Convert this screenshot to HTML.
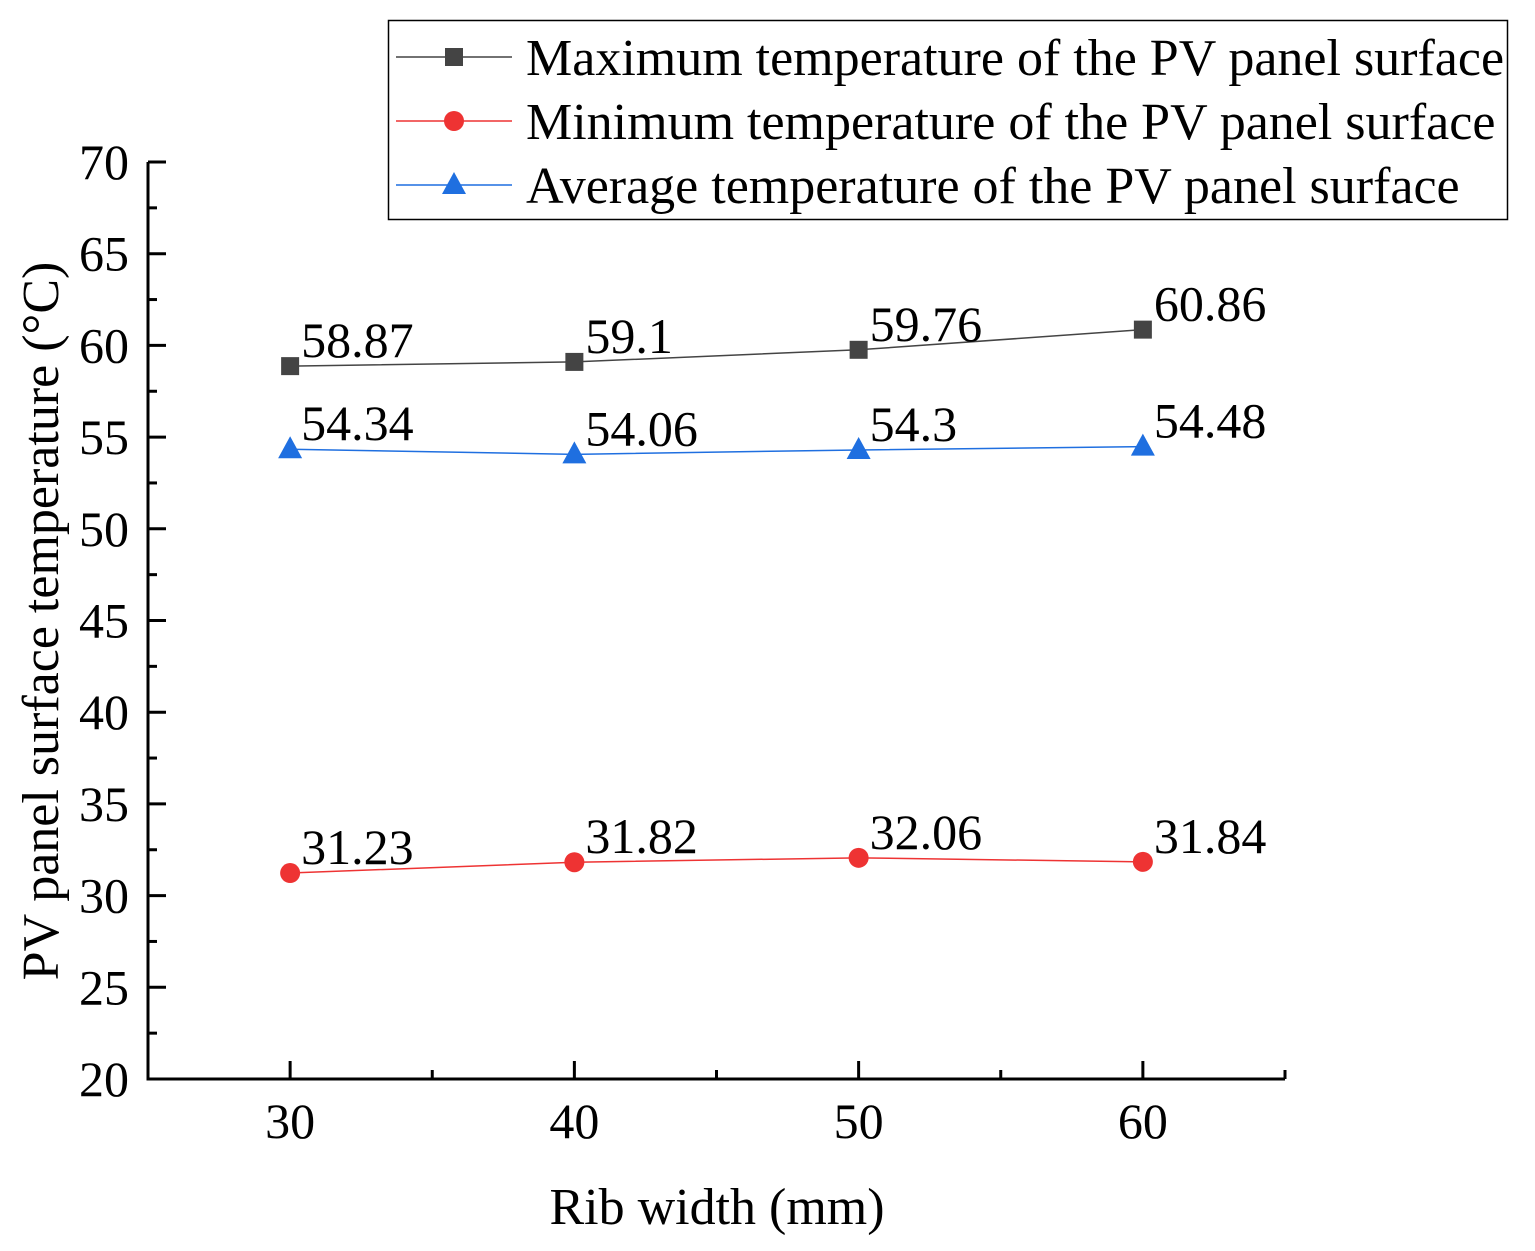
<!DOCTYPE html>
<html><head><meta charset="utf-8"><style>body{margin:0;background:#fff}svg{display:block}text{font-family:"Liberation Serif",serif}</style></head>
<body>
<svg id="chart" width="1535" height="1251" xmlns="http://www.w3.org/2000/svg"></svg>
<script>
const categories=[30,40,50,60];
const maxTemp=[58.87,59.1,59.76,60.86];
const minTemp=[31.23,31.82,32.06,31.84];
const avgTemp=[54.34,54.06,54.3,54.48];
const maxLabels=["58.87","59.1","59.76","60.86"];
const minLabels=["31.23","31.82","32.06","31.84"];
const avgLabels=["54.34","54.06","54.3","54.48"];
const yTicks=[20,25,30,35,40,45,50,55,60,65,70];
const xTicks=[30,40,50,60];
const svg=document.getElementById('chart');
const NS='http://www.w3.org/2000/svg';
const X0=148,X1=1285,Y0=1079,Y1=162;
const xs=v=>X0+(v-25)/40*(X1-X0);
const ys=v=>Y0-(v-20)/50*(Y0-Y1);
function mk(t,a,p){const e=document.createElementNS(NS,t);for(const k in a)e.setAttribute(k,a[k]);(p||svg).appendChild(e);return e;}
let ax=mk('line',{x1:X0,y1:Y1,x2:X0,y2:Y0+1.5,stroke:'#000','stroke-width':3});


let bx=mk('line',{x1:X0-1.5,y1:Y0,x2:X1,y2:Y0,stroke:'#000','stroke-width':3});


yTicks.forEach((v,i)=>{
  mk('line',{x1:X0,y1:ys(v),x2:X0+18,y2:ys(v),stroke:'#000','stroke-width':3});
  if(i<yTicks.length-1)mk('line',{x1:X0,y1:ys(v+2.5),x2:X0+9,y2:ys(v+2.5),stroke:'#000','stroke-width':3});
  const t=mk('text',{x:129,y:ys(v)+17,'text-anchor':'end','font-size':50});t.textContent=v;
  
  
});
xTicks.forEach(v=>{
  mk('line',{x1:xs(v),y1:Y0,x2:xs(v),y2:Y0-18,stroke:'#000','stroke-width':3});
  mk('line',{x1:xs(v+5),y1:Y0,x2:xs(v+5),y2:Y0-9,stroke:'#000','stroke-width':3});
  const t=mk('text',{x:xs(v),y:1138,'text-anchor':'middle','font-size':50});t.textContent=v;
  
  
});
let xt=mk('text',{x:717,y:1224,'text-anchor':'middle','font-size':52});xt.textContent='Rib width (mm)';


let yt=mk('text',{x:0,y:0,'text-anchor':'middle','font-size':52,transform:'translate(58,621) rotate(-90)'});yt.textContent='PV panel surface temperature (°C)';


function marker(shape,x,y,color,g){
  if(shape==='sq')return mk('rect',{x:x-9,y:y-9,width:18,height:18,fill:color},g);
  if(shape==='ci')return mk('circle',{cx:x,cy:y,r:10,fill:color},g);
  return mk('polygon',{points:`${x},${y-13} ${x+12},${y+9} ${x-12},${y+9}`,fill:color},g);
}
const series=[[maxTemp,maxLabels,'#444','sq','max'],[avgTemp,avgLabels,'#1f6fe0','tr','avg'],[minTemp,minLabels,'#ee3333','ci','min']];
series.forEach(([vals,labs,col,sh,nm])=>{
  const g=mk('g',{});
  
  
  mk('polyline',{points:vals.map((v,i)=>xs(categories[i])+','+ys(v)).join(' '),fill:'none',stroke:col,'stroke-width':1.5},g);
  vals.forEach((v,i)=>{
    const m=marker(sh,xs(categories[i]),ys(v),col,g);
    
    
    const t=mk('text',{x:xs(categories[i])+11,y:ys(v)-9,'font-size':50},g);t.textContent=labs[i];
    
    
  });
});
const lg=mk('g',{});


mk('rect',{x:388.5,y:20.5,width:1119,height:199,fill:'#fff',stroke:'#000','stroke-width':1.5},lg);
const legItems=[['Maximum temperature of the PV panel surface','#444','sq',57],['Minimum temperature of the PV panel surface','#ee3333','ci',121],['Average temperature of the PV panel surface','#1f6fe0','tr',185]];
legItems.forEach(([txt,col,sh,y])=>{
  const e=mk('g',{},lg);
  
  
  mk('line',{x1:396,y1:y,x2:512,y2:y,stroke:col,'stroke-width':1.5},e);
  marker(sh,454,y,col,e);
  const t=mk('text',{x:526,y:y+18,'font-size':52},e);t.textContent=txt;
});
</script>
</body></html>
